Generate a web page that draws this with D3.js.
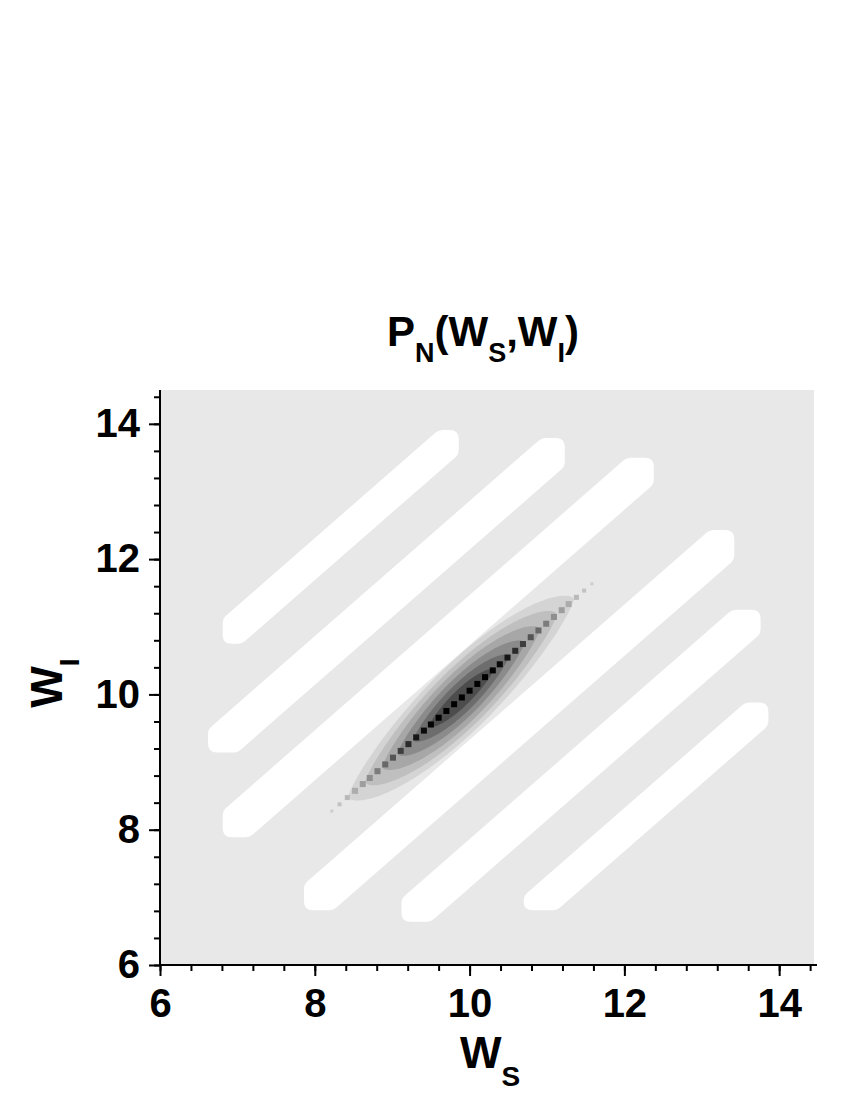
<!DOCTYPE html>
<html><head><meta charset="utf-8">
<script src="https://cdn.jsdelivr.net/npm/d3@7"></script>
<style>
body{margin:0;background:#fff;}
text{font-family:"Liberation Sans",Arial,sans-serif;font-weight:bold;fill:#000;}
</style>
</head><body>
<svg id="chart" width="850" height="1100"></svg>
<script>
// ---------- data ----------
const xMajorTicks = [6, 8, 10, 12, 14];
const yMajorTicks = [6, 8, 10, 12, 14];
const minorTicks = [6, 6.4, 6.8, 7.2, 7.6, 8, 8.4, 8.8, 9.2, 9.6, 10, 10.4, 10.8, 11.2, 11.6, 12, 12.4, 12.8, 13.2, 13.6, 14, 14.4];

// white (low-value) stripes along W_I - W_S = const
const stripeOffset = [4.0, 2.5, 1.1, -1.05, -2.5, -4.0];     // W_I - W_S of stripe centre
const stripeWidth  = [0.62, 0.72, 0.74, 0.76, 0.72, 0.64];   // thickness in W_I
const stripeLeft   = [6.81, 6.62, 6.81, 7.86, 9.12, 10.70];  // W_S of lower-left end
const stripeBottom = [10.75, 9.14, 7.89, 6.81, 6.64, 6.81];  // W_I of lower-left end
const stripeRight  = [9.86, 11.23, 12.38, 13.42, 13.76, 13.86]; // W_S of upper-right end
const stripeTop    = [13.91, 13.79, 13.50, 12.43, 11.25, 9.88]; // W_I of upper-right end

// central peak: filled contour levels (outer -> inner)
const peakCentreWs = 9.89;
const peakCentreD = 0.055;
const levelHalfLength = [1.46, 1.24, 1.02, 0.82, 0.62, 0.42];
const levelHalfWidth  = [0.66, 0.57, 0.48, 0.38, 0.28, 0.17];
const levelColour = ["#d4d4d4", "#bfbfbf", "#a7a7a7", "#8b8b8b", "#6d6d6d", "#4d4d4d"];

// ridge cells along the diagonal
const ridgeWs = [8.22, 8.32, 8.42, 8.52, 8.62, 8.71, 8.81, 8.91, 9.01, 9.11, 9.21, 9.31, 9.41, 9.50, 9.60, 9.70, 9.80, 9.90,
                 10.00, 10.10, 10.20, 10.30, 10.39, 10.49, 10.59, 10.69, 10.79, 10.89, 10.99, 11.09, 11.19, 11.28, 11.38, 11.48, 11.58];
const ridgeGrey = [205, 195, 185, 172, 158, 142, 124, 104, 84, 62, 42, 22, 10, 4, 0, 0, 0, 0,
                   0, 0, 0, 4, 10, 22, 42, 62, 84, 104, 124, 142, 158, 172, 185, 195, 205];
const ridgeSize = [3, 4, 5, 6, 6, 6, 6, 6, 6, 6, 6, 6, 6, 6, 6, 6, 6, 6,
                   6, 6, 6, 6, 6, 6, 6, 6, 6, 6, 6, 6, 6, 6, 5, 4, 3];

// ---------- drawing ----------
const svg = d3.select("#chart");
const x = d3.scaleLinear().domain([6, 14.45]).range([160, 814]);
const y = d3.scaleLinear().domain([6, 14.5]).range([965, 390]);

svg.append("rect").attr("x", x(6)).attr("y", y(14.5))
  .attr("width", x(14.45) - x(6)).attr("height", y(6) - y(14.5)).attr("fill", "#e8e8e8");

const plot = svg.append("g");

function roundedPath(pts, radii) {
  const n = pts.length; let s = "";
  for (let i = 0; i < n; i++) {
    const p = pts[i], pr = pts[(i - 1 + n) % n], nx = pts[(i + 1) % n];
    const r = radii[i];
    const l1 = Math.hypot(pr[0] - p[0], pr[1] - p[1]), l2 = Math.hypot(nx[0] - p[0], nx[1] - p[1]);
    const r1 = Math.min(r, l1 / 2), r2 = Math.min(r, l2 / 2);
    const a = [p[0] + (pr[0] - p[0]) / l1 * r1, p[1] + (pr[1] - p[1]) / l1 * r1];
    const b = [p[0] + (nx[0] - p[0]) / l2 * r2, p[1] + (nx[1] - p[1]) / l2 * r2];
    s += (i === 0 ? "M" : "L") + a[0] + "," + a[1] + "Q" + p[0] + "," + p[1] + " " + b[0] + "," + b[1];
  }
  return s + "Z";
}

stripeOffset.forEach((d, i) => {
  const hw = stripeWidth[i] / 2, a = stripeLeft[i], b = stripeBottom[i], c = stripeRight[i], e = stripeTop[i];
  const dataPts = [
    [a, a + d + hw], [e - d - hw, e], [c, e], [c, c + d - hw], [b - d + hw, b], [a, b]
  ];
  const px = dataPts.map(p => [x(p[0]), y(p[1])]);
  plot.append("path").attr("d", roundedPath(px, [4, 4, 9, 4, 4, 9])).attr("fill", "#ffffff");
});

// contour levels of the peak
const q = 0.72;
levelHalfLength.forEach((L, i) => {
  const D = levelHalfWidth[i];
  const upper = [], lower = [];
  for (let k = 0; k <= 100; k++) {
    const u = -1 + 2 * k / 100;
    const t = peakCentreWs + L * u;
    const h = D * Math.pow(Math.max(0, 1 - u * u), q);
    upper.push([t, t + peakCentreD + h]);
    lower.push([t, t + peakCentreD - h]);
  }
  const ring = upper.concat(lower.reverse());
  plot.append("path")
    .attr("d", d3.line().x(p => x(p[0])).y(p => y(p[1])).curve(d3.curveLinearClosed)(ring))
    .attr("fill", levelColour[i]);
});

// ridge cells
ridgeWs.forEach((w, i) => {
  const g = ridgeGrey[i], s = ridgeSize[i];
  const cx = x(w), cy = y(w + peakCentreD);
  plot.append("rect").attr("x", cx - s / 2).attr("y", cy - s / 2).attr("width", s).attr("height", s)
    .attr("fill", d3.rgb(g, g, g));
});

// ---------- axes ----------
function styleAxis(g) {
  g.selectAll("path.domain").attr("stroke", "#000").attr("stroke-width", 2);
  g.selectAll(".tick line").attr("stroke", "#000").attr("stroke-width", 2);
  g.selectAll("text").attr("font-size", 40).attr("font-family", '"Liberation Sans", Arial, sans-serif')
    .attr("font-weight", "bold").attr("fill", "#000");
}
const gxMinor = svg.append("g").attr("transform", `translate(0,${y(6)})`)
  .call(d3.axisBottom(x).tickValues(minorTicks).tickSize(6).tickSizeOuter(0).tickFormat(""));
gxMinor.select("path.domain").remove();
const gx = svg.append("g").attr("transform", `translate(0,${y(6)})`)
  .call(d3.axisBottom(x).tickValues(xMajorTicks).tickSize(11).tickSizeOuter(0).tickPadding(13).tickFormat(d3.format("d")));
styleAxis(gxMinor); styleAxis(gx);
gx.select("path.domain").attr("d", `M${x(6)},0H${x(14.45) + 3}`);

const gyMinor = svg.append("g").attr("transform", `translate(${x(6)},0)`)
  .call(d3.axisLeft(y).tickValues(minorTicks).tickSize(6).tickSizeOuter(0).tickFormat(""));
gyMinor.select("path.domain").remove();
const gy = svg.append("g").attr("transform", `translate(${x(6)},0)`)
  .call(d3.axisLeft(y).tickValues(yMajorTicks).tickSize(11).tickSizeOuter(0).tickPadding(9).tickFormat(d3.format("d")));
styleAxis(gyMinor); styleAxis(gy);
gy.select("path.domain").attr("d", `M0,${y(6)}V${y(14.5)}`);

// ---------- titles ----------
const title = svg.append("text").attr("x", 483).attr("y", 346).attr("text-anchor", "middle").attr("font-size", 42);
title.append("tspan").text("P");
title.append("tspan").attr("font-size", 27).attr("dy", 16).text("N");
title.append("tspan").attr("dy", -16).text("(W");
title.append("tspan").attr("font-size", 27).attr("dy", 16).text("S");
title.append("tspan").attr("dy", -16).text(",W");
title.append("tspan").attr("font-size", 27).attr("dy", 16).text("I");
title.append("tspan").attr("dy", -16).text(")");

const xl = svg.append("text").attr("x", 490).attr("y", 1068).attr("text-anchor", "middle").attr("font-size", 44);
xl.append("tspan").text("W");
xl.append("tspan").attr("font-size", 28).attr("dy", 18).text("S");

const yl = svg.append("text").attr("transform", "translate(62,683) rotate(-90)").attr("text-anchor", "middle").attr("font-size", 44);
yl.append("tspan").text("W");
yl.append("tspan").attr("font-size", 28).attr("dy", 17).text("I");
</script>
</body></html>
